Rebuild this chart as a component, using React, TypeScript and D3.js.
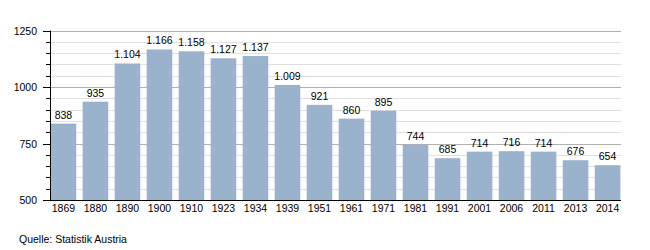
import React from "react";
import * as d3 from "d3";

const years = ["1869","1880","1890","1900","1910","1923","1934","1939","1951","1961","1971","1981","1991","2001","2006","2011","2013","2014"];
const population = [838, 935, 1104, 1166, 1158, 1127, 1137, 1009, 921, 860, 895, 744, 685, 714, 716, 714, 676, 654];
const yMajorTicks = [500, 750, 1000, 1250];
const sourceText = "Quelle: Statistik Austria";

const W = 650, H = 250;
const left = 50, right = 621, top = 30.5, bottom = 200;
const font = "'Liberation Sans', Arial, sans-serif";
const fs = 10.5;

const fmt = (v: number) => {
  const s = String(v);
  return s.length > 3 ? s.slice(0, s.length - 3) + "." + s.slice(-3) : s;
};

export default function App() {
  const x = d3.scaleBand<string>().domain(years).range([left, right]).paddingInner(0.2).paddingOuter(0.02);
  const y = d3.scaleLinear().domain([500, 1250]).range([bottom, top]);
  const minor = d3.range(500, 1251, 50).filter((v) => !yMajorTicks.includes(v));
  return (
    <svg width={W} height={H} style={{ position: "absolute", left: 0, top: 0 }} fontFamily={font}>
      <rect width={W} height={H} fill="#fff" />
      {minor.map((v) => (
        <line key={"g" + v} x1={left} x2={right} y1={Math.round(y(v)) + 0.5} y2={Math.round(y(v)) + 0.5} stroke="#e0e0e0" />
      ))}
      {yMajorTicks.map((v) => (
        <line key={"G" + v} x1={left} x2={right} y1={Math.round(y(v)) + 0.5} y2={Math.round(y(v)) + 0.5} stroke="#b0b0b0" />
      ))}
      {population.map((v, i) => (
        <rect key={years[i]} x={x(years[i])!} y={y(v)} width={x.bandwidth()} height={bottom - y(v)} fill="#9ab2cb" />
      ))}
      {population.map((v, i) => (
        <text key={"l" + i} x={x(years[i])! + x.bandwidth() / 2} y={y(v) - 5} textAnchor="middle" fontSize={fs} fill="#000">
          {fmt(v)}
        </text>
      ))}
      {minor.map((v) => (
        <line key={"t" + v} x1={left - 4} x2={left} y1={Math.round(y(v)) + 0.5} y2={Math.round(y(v)) + 0.5} stroke="#000" />
      ))}
      {yMajorTicks.map((v) => (
        <line key={"T" + v} x1={left - 7} x2={left} y1={Math.round(y(v)) + 0.5} y2={Math.round(y(v)) + 0.5} stroke="#000" />
      ))}
      {yMajorTicks.map((v) => (
        <text key={"y" + v} x={37} y={y(v) + 4} textAnchor="end" fontSize={fs} fill="#000">{v}</text>
      ))}
      <line x1={left + 0.5} x2={left + 0.5} y1={top} y2={bottom + 1} stroke="#000" />
      <line x1={left} x2={right} y1={bottom + 0.5} y2={bottom + 0.5} stroke="#000" />
      {years.map((yr) => (
        <text key={"x" + yr} x={x(yr)! + x.bandwidth() / 2} y={212} textAnchor="middle" fontSize={fs} fill="#000">{yr}</text>
      ))}
      <text x={19} y={243} fontSize={fs} fill="#000">{sourceText}</text>
    </svg>
  );
}
